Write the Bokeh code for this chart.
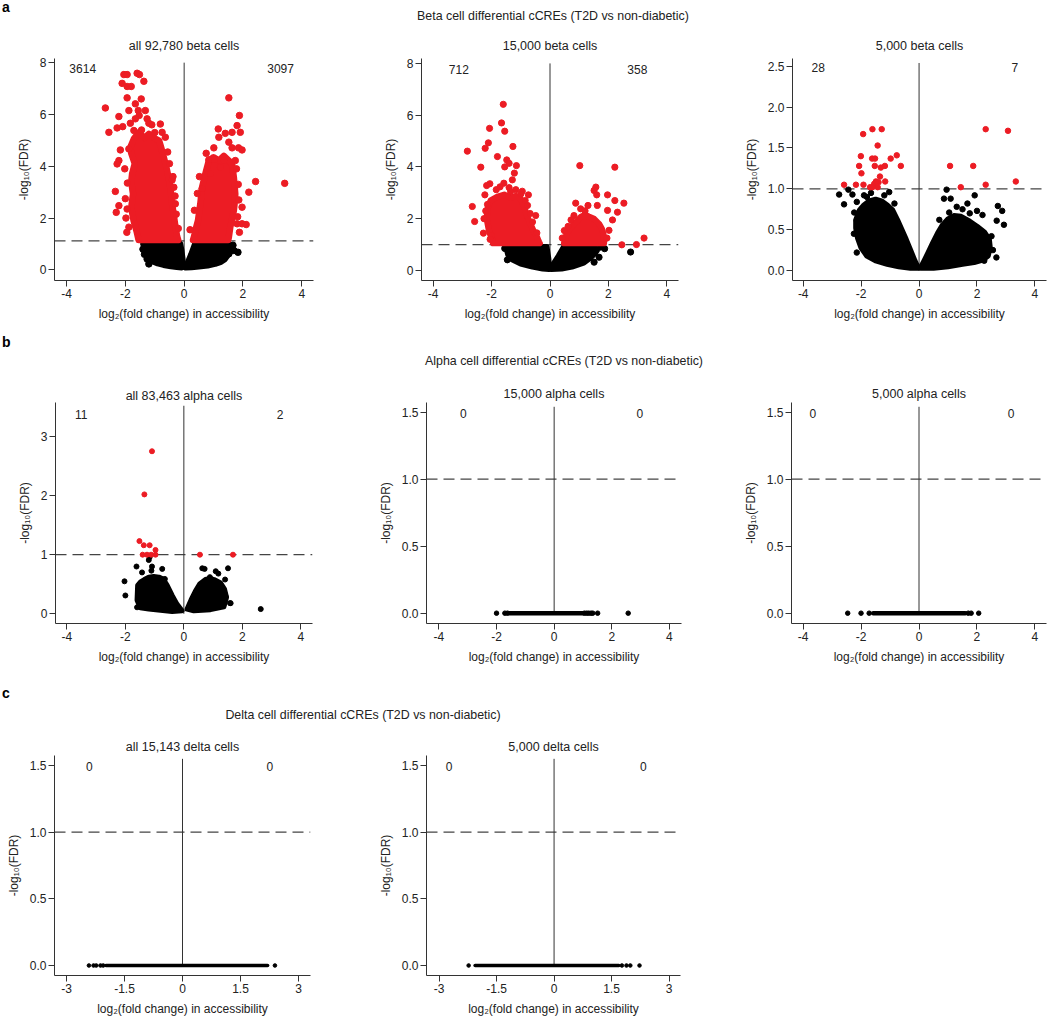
from bokeh.plotting import figure
from bokeh.models import Span, FixedTicker, Div, Range1d
from bokeh.layouts import column, row
from bokeh.core.properties import value
from bokeh.embed import file_html
from bokeh.resources import INLINE

FONT = "Liberation Sans"
RED = "#ec1c24"
BLACK = "#000000"
INK = "#333333"

# ---------------- data ----------------
# counts of differential cCREs (down, up)
beta_counts = [("3614", "3097"), ("712", "358"), ("28", "7")]
alpha_counts = [("11", "2"), ("0", "0"), ("0", "0")]
delta_counts = [("0", "0"), ("0", "0")]

# a: all 92,780 beta cells - scattered significant points
beta_all_red_x = [-2.05, -1.94, -1.60, -1.52, -2.11, -1.94, -1.80, -1.37, -1.94, -1.46, -1.66, -2.68,
                  -1.88, -1.56, -1.32, -2.22, -1.83, -1.53, -1.20, -0.81, -2.56, -2.28, -2.09, -0.75,
                  -0.64, -2.17, -1.88, -2.22, -2.28, -0.41, -2.34, -2.22, -2.31, -1.94, -0.35, -0.30,
                  -1.66, -1.71, -1.26, -1.88, -1.00, -1.45, -1.10,
                  -1.95, -1.98, -2.00, -1.93, -2.02, -0.27, -0.31, -0.38, -0.50, -0.56, -0.20,
                  1.52, 1.88, 1.80, 1.16, 1.40, 1.63, 1.91, 1.18, 1.52, 1.01, 1.63, 1.85, 1.97, 0.84,
                  1.04, 2.43, 3.42, 2.20, 1.97, 1.80, 1.97, 2.11, 1.88, 0.61, 1.35, 1.74, 0.89, 1.23,
                  0.20, 0.35, 0.45, 0.52, 1.82, 1.86, 1.84, 1.78, 0.75]
beta_all_red_y = [7.54, 7.54, 7.59, 7.54, 7.20, 7.08, 7.08, 7.28, 6.64, 6.60, 6.41, 6.25,
                  6.15, 6.15, 6.15, 5.92, 5.66, 5.96, 5.66, 5.63, 5.31, 5.48, 5.53, 5.31,
                  5.12, 4.63, 4.67, 4.22, 4.09, 3.47, 3.03, 2.48, 2.22, 2.35, 3.19, 2.55,
                  5.83, 5.38, 5.83, 1.65, 5.30, 5.40, 5.60,
                  1.45, 2.00, 2.75, 3.35, 3.90, 2.15, 2.85, 3.60, 4.10, 4.55, 1.60,
                  6.64, 5.96, 5.57, 5.44, 5.27, 5.31, 5.31, 5.12, 4.93, 4.71, 4.71, 4.71, 4.63, 4.25,
                  4.25, 3.41, 3.34, 3.00, 2.42, 1.78, 1.78, 1.75, 1.45, 3.13, 4.22, 4.22, 3.71, 3.96,
                  1.55, 2.30, 2.95, 3.60, 2.05, 2.70, 3.30, 3.90, 4.50]
# outlines of the dense significant clouds (down, up)
beta_all_red_core_x = [[-1.55, -1.62, -1.72, -1.80, -1.74, -1.80, -1.77, -1.68, -1.80, -1.83, -1.71, -1.55,
                        -1.35, -1.20, -0.98, -0.85, -0.75, -0.68, -0.58, -0.50, -0.45, -0.41, -0.35,
                        -0.30, -0.24, -0.20],
                       [0.30, 0.33, 0.40, 0.47, 0.55, 0.61, 0.72, 0.84, 1.00, 1.18, 1.35, 1.52, 1.63,
                        1.69, 1.74, 1.72, 1.69, 1.62, 1.57, 1.52, 1.50]]
beta_all_red_core_y = [[1.15, 1.50, 1.90, 2.40, 2.93, 3.40, 3.71, 4.10, 4.50, 4.73, 5.06, 5.30,
                        5.10, 5.25, 5.06, 4.99, 4.60, 4.30, 3.84, 3.40, 3.00, 2.55, 2.10,
                        1.70, 1.30, 1.15],
                       [1.15, 1.26, 1.60, 1.90, 2.55, 3.19, 3.71, 4.22, 4.35, 4.22, 4.40, 4.22, 4.09,
                        3.58, 2.93, 2.60, 2.29, 1.90, 1.65, 1.26, 1.15]]
beta_all_black_core_x = [[-1.32, -1.30, -1.26, -1.20, -1.08, -0.90, -0.70, -0.45, -0.25, -0.08, -0.05,
                          -0.06, -0.10, -0.14],
                         [0.38, 0.25, 0.12, 0.05, 0.25, 0.50, 0.80, 1.05, 1.25, 1.38, 1.46, 1.55, 1.57,
                          1.52]]
beta_all_black_core_y = [[1.00, 0.80, 0.60, 0.45, 0.34, 0.26, 0.20, 0.15, 0.12, 0.10, 0.12,
                          0.40, 0.75, 1.00],
                         [1.00, 0.60, 0.25, 0.10, 0.11, 0.14, 0.18, 0.24, 0.32, 0.42, 0.55, 0.68, 0.85,
                          1.00]]
beta_all_black_x = [-1.37, -1.26, -1.20, 1.52, 1.69, 1.83, 1.60, -1.40, -1.35, 1.66]
beta_all_black_y = [1.00, 0.42, 0.23, 0.62, 0.75, 0.68, 0.80, 0.80, 0.60, 0.95]

# a: 15,000 beta cells
beta_15k_red_x = [-1.60, -1.66, -2.07, -1.55, -2.11, -2.22, -1.27, -2.83, -1.80, -1.48, -2.37, -1.55,
                  -1.40, -1.15, -1.22, -1.29, -1.58, -2.06, -2.17, -1.84, -1.71, -1.40, -1.17, -0.95,
                  -2.23, -0.74, -2.66, -2.14, -0.77, -2.58, -0.49, -2.28, -2.26, -2.00, -0.60,
                  -2.05, -2.20, -0.85, -0.68, -0.45, -1.35, -1.00,
                  1.02, 2.22, 1.57, 1.51, 1.60, 1.97, 0.88, 1.30, 1.62, 2.22, 2.53, 1.05, 1.97, 2.31,
                  2.14, 0.82, 0.62, 0.49, 3.22, 2.46, 2.96, 0.42, 1.95, 2.02, 1.20, 0.72]
beta_15k_red_y = [6.42, 5.70, 5.49, 5.38, 4.93, 4.72, 4.79, 4.61, 4.40, 4.27, 3.99, 4.00,
                  4.14, 4.05, 3.76, 3.50, 3.37, 3.35, 3.28, 3.12, 3.23, 3.20, 3.12, 3.06,
                  2.92, 2.92, 2.47, 2.55, 2.51, 1.89, 2.12, 1.44, 2.00, 1.35, 1.87,
                  1.20, 2.30, 2.70, 2.20, 1.45, 3.05, 2.95,
                  4.05, 3.99, 3.22, 3.09, 2.92, 2.92, 2.60, 2.51, 2.51, 2.70, 2.60, 2.38, 2.32, 2.25,
                  1.95, 2.12, 1.70, 1.54, 1.25, 0.99, 1.00, 1.25, 1.25, 1.55, 2.30, 1.95]
beta_15k_red_core_x = [[-1.95, -1.94, -2.02, -2.09, -2.17, -2.13, -2.03, -1.80, -1.57, -1.35, -1.17,
                        -1.00, -0.92, -0.82, -0.72, -0.57, -0.45, -0.37, -0.35],
                       [0.48, 0.50, 0.57, 0.71, 0.88, 1.05, 1.20, 1.33, 1.51, 1.68, 1.78, 1.83, 1.85,
                        1.85]]
beta_15k_red_core_y = [[1.05, 1.09, 1.30, 1.54, 2.00, 2.44, 2.70, 2.85, 2.93, 2.80, 2.88,
                        2.76, 2.57, 2.25, 1.93, 1.54, 1.30, 1.09, 1.05],
                       [1.05, 1.13, 1.44, 1.67, 1.86, 2.06, 2.15, 2.08, 1.99, 1.80, 1.60, 1.41, 1.13,
                        1.05]]
beta_15k_black_core_x = [[-1.49, -1.46, -1.43, -1.35, -1.28, -1.00, -0.60, -0.25, -0.03, -0.06, -0.12],
                         [0.48, 0.30, 0.10, 0.05, 0.40, 0.75, 1.15, 1.38, 1.52, 1.60, 1.50]]
beta_15k_black_core_y = [[0.90, 0.75, 0.62, 0.52, 0.42, 0.27, 0.15, 0.08, 0.06, 0.45, 0.90],
                         [0.90, 0.55, 0.20, 0.06, 0.08, 0.15, 0.30, 0.50, 0.65, 0.77, 0.90]]
beta_15k_black_x = [-1.46, 2.76, 1.87, 1.68, 1.51, -1.55, 1.72]
beta_15k_black_y = [0.41, 0.71, 0.84, 0.51, 0.32, 0.85, 0.90]

# a: 5,000 beta cells
beta_5k_red_x = [-1.93, -1.61, -1.29, -1.43, -2.01, -1.62, -1.52, -0.77, -0.98, -2.07, -1.53, -1.32,
                 -1.18, -0.63, -1.99, -1.35, -1.17, -2.59, -2.18, -1.92, -1.55, -1.43, -1.69, -1.40,
                 -1.61, -1.49,
                 2.30, 3.07, 1.07, 1.87, 2.30, 3.34, 1.44]
beta_5k_red_y = [1.67, 1.73, 1.73, 1.53, 1.40, 1.37, 1.37, 1.41, 1.37, 1.28, 1.28, 1.26,
                 1.28, 1.28, 1.19, 1.15, 1.09, 1.05, 1.05, 1.05, 1.06, 1.02, 1.02, 1.08,
                 1.02, 1.09,
                 1.73, 1.71, 1.28, 1.28, 1.05, 1.09, 1.02]
beta_5k_black_core_x = [[-2.18, -2.05, -1.90, -1.72, -1.50, -1.30, -1.10, -0.92, -0.75, -0.60, -0.45, -0.30,
                         -0.15, -0.03, -0.30, -0.70, -1.10, -1.50, -1.80, -2.00, -2.12, -2.18],
                        [0.05, 0.18, 0.32, 0.48, 0.65, 0.82, 1.00, 1.20, 1.45, 1.75, 2.00, 2.25, 2.42,
                         2.45, 2.38, 2.20, 1.90, 1.50, 1.00, 0.50]]
beta_5k_black_core_y = [[0.62, 0.74, 0.80, 0.85, 0.87, 0.85, 0.80, 0.74, 0.62, 0.50, 0.38, 0.25,
                         0.12, 0.03, 0.03, 0.05, 0.08, 0.12, 0.18, 0.28, 0.40, 0.52],
                        [0.03, 0.12, 0.22, 0.34, 0.46, 0.56, 0.63, 0.67, 0.66, 0.60, 0.54, 0.47, 0.38,
                         0.28, 0.18, 0.13, 0.10, 0.08, 0.05, 0.03]]
beta_5k_black_x = [-2.76, -2.59, -2.44, -2.30, -2.15, -2.24, -2.15, -1.90, -2.15, -1.66, -1.03, -1.80,
                   0.95, 0.86, 1.09, 1.92, 1.67, 1.04, 2.00, 2.19, 2.72, 2.87, 2.68, 2.93, 2.67, 2.06,
                   2.25, 1.30, 1.50, -2.25, -1.20, -0.85, 0.70, 2.50, 2.55, 1.75]
beta_5k_black_y = [0.93, 0.81, 0.99, 0.93, 0.84, 0.71, 0.61, 0.92, 0.22, 0.95, 0.96, 0.90,
                   0.99, 0.88, 0.88, 0.92, 0.82, 0.71, 0.73, 0.68, 0.79, 0.73, 0.61, 0.56, 0.16, 0.14,
                   0.12, 0.78, 0.75, 0.45, 0.92, 0.82, 0.62, 0.42, 0.25, 0.70]

# b: all 83,463 alpha cells
alpha_all_red_x = [-1.09, -1.35, -1.52, -1.37, -1.17, -0.97, -1.41, -1.26, -0.97, -1.12, 0.55, 1.68]
alpha_all_red_y = [2.75, 2.02, 1.23, 1.16, 1.16, 1.08, 1.00, 1.00, 1.00, 1.00, 1.00, 1.00]
alpha_all_black_core_x = [[-1.58, -1.48, -1.35, -1.20, -1.03, -0.85, -0.71, -0.57, -0.40, -0.23, -0.06,
                           -0.40, -0.80, -1.20, -1.49, -1.60],
                          [0.11, 0.25, 0.40, 0.55, 0.74, 0.90, 1.03, 1.26, 1.39, 1.46, 1.37, 0.91, 0.34]]
alpha_all_black_core_y = [[0.48, 0.54, 0.58, 0.62, 0.63, 0.62, 0.59, 0.48, 0.31, 0.16, 0.05,
                           0.04, 0.06, 0.08, 0.10, 0.23],
                          [0.08, 0.24, 0.39, 0.51, 0.58, 0.60, 0.58, 0.52, 0.42, 0.28, 0.12, 0.07, 0.05]]
alpha_all_black_x = [-2.03, -2.00, -1.62, -1.43, -1.11, -0.74, -0.65, -1.60, -1.17, -1.20, -1.09, -1.54,
                     0.63, 1.51, 1.41, 1.09, 1.43, 1.60, 2.63, 0.71, 0.89, 1.18, 1.58]
alpha_all_black_y = [0.55, 0.31, 0.80, 0.70, 0.73, 0.76, 0.59, 0.11, 0.96, 0.91, 0.80, 0.34,
                     0.77, 0.77, 0.58, 0.72, 0.29, 0.18, 0.08, 0.76, 0.62, 0.68, 0.18]

# b/c: panels without any significant cCRE - every point sits at -log10(FDR) = 0
# (dense run from .. to, isolated points)
alpha_15k_run = (-1.55, 1.00)
alpha_15k_x = [-2.00, -1.71, -1.62, 1.05, 1.13, 1.20, 1.28, 1.34, 1.51, 2.57]
alpha_5k_run = (-1.58, 1.60)
alpha_5k_x = [-2.46, -2.00, -1.72, 1.70, 1.80, 2.06]
delta_all_run = (-1.98, 2.20)
delta_all_x = [-2.42, -2.30, -2.23, -2.12, -2.05, 2.39]
delta_5k_run = (-2.06, 1.69)
delta_5k_x = [-2.23, 1.77, 1.89, 1.99, 2.23]

ticks_x4 = [-4, -2, 0, 2, 4]
ticks_x3 = [-3, -1.5, 0, 1.5, 3]
labels_x3 = ["-3", "-1.5", "0", "1.5", "3"]
ticks_y8 = [0, 2, 4, 6, 8]
ticks_y3 = [0, 1, 2, 3]
ticks_y25 = [0, 0.5, 1.0, 1.5, 2.0, 2.5]
ticks_y15 = [0, 0.5, 1.0, 1.5]

XLAB = "log\u2082(fold change) in accessibility"
YLAB = "-log\u2081\u2080(FDR)"


def tick_labels(ticks, decimals):
    return {t: (f"{t:.{decimals}f}" if decimals else str(t)) for t in ticks}


def panel(title, w, h, borders, xr, yr, xticks, xlabels, yticks, ydec, thr, vtop,
          counts, count_pos, size, title_standoff):
    left, right, top, bottom = borders
    p = figure(width=w, height=h, x_range=Range1d(*xr), y_range=Range1d(*yr),
               output_backend="svg", toolbar_location=None, title=title,
               min_border_left=left, min_border_right=right,
               min_border_top=top, min_border_bottom=bottom, margin=(0, 0, 0, 0))
    p.outline_line_color = None
    p.grid.visible = False
    p.title.align = "center"
    p.title.text_font = FONT
    p.title.text_font_size = "12.5px"
    p.title.text_font_style = "normal"
    p.title.text_color = "#222222"
    p.title.standoff = title_standoff

    p.xaxis.ticker = FixedTicker(ticks=xticks)
    p.xaxis.major_label_overrides = xlabels
    p.yaxis.ticker = FixedTicker(ticks=yticks)
    p.yaxis.major_label_overrides = tick_labels(yticks, ydec)
    p.xaxis.axis_label = XLAB
    p.yaxis.axis_label = YLAB
    for ax in p.axis:
        ax.axis_line_color = INK
        ax.major_tick_line_color = INK
        ax.minor_tick_line_color = None
        ax.major_tick_in = 0
        ax.major_tick_out = 6
        ax.major_label_standoff = 2
        ax.major_label_text_font = FONT
        ax.major_label_text_font_size = "12px"
        ax.major_label_text_color = "#222222"
        ax.axis_label_text_font = FONT
        ax.axis_label_text_font_size = "12px"
        ax.axis_label_text_font_style = "normal"
        ax.axis_label_text_color = "#222222"
        ax.axis_label_standoff = 6

    p.add_layout(Span(location=thr, dimension="width", line_color="#444444",
                      line_dash="11 6", line_width=1.2, level="underlay"))
    p.segment(x0=[0], y0=[0], x1=[0], y1=[vtop], line_color=INK, line_width=1)
    p.text(x=[count_pos[0], count_pos[1]], y=[count_pos[2], count_pos[2]],
           text=[counts[0], counts[1]], text_font=value(FONT), text_font_size="12px",
           text_align="center", text_baseline="middle", text_color="#222222")
    p._dot = size
    return p


def dense(p, xs, ys, color):
    p.patches(xs, ys, fill_color=color, line_color=color, line_width=p._dot,
              line_join="round")


def dots(p, x, y, color):
    p.scatter(x, y, size=p._dot, color=color, marker="circle")


def run(p, extent, x):
    p.segment(x0=[extent[0]], y0=[0], x1=[extent[1]], y1=[0], line_color=BLACK,
              line_width=p._dot, line_cap="round")
    dots(p, x, [0] * len(x), BLACK)


xl4 = tick_labels(ticks_x4, 0)
xl3 = dict(zip(ticks_x3, labels_x3))

# ---------------- row a: beta cells ----------------
a1 = panel("all 92,780 beta cells", 375, 300, (54, 62, 33, 45), (-4.41, 4.40), (-0.41, 8.16),
           ticks_x4, xl4, ticks_y8, 0, 1.12, 8.0, beta_counts[0], (-3.45, 3.28, 7.76), 6.5, 11)
dense(a1, beta_all_black_core_x, beta_all_black_core_y, BLACK)
dots(a1, beta_all_black_x, beta_all_black_y, BLACK)
dense(a1, beta_all_red_core_x, beta_all_red_core_y, RED)
dots(a1, beta_all_red_x, beta_all_red_y, RED)

a2 = panel("15,000 beta cells", 365, 300, (46, 62, 33, 45), (-4.4, 4.4), (-0.39, 8.19),
           ticks_x4, xl4, ticks_y8, 0, 1.0, 8.0, beta_counts[1], (-3.12, 2.99, 7.78), 6.2, 11)
dense(a2, beta_15k_black_core_x, beta_15k_black_core_y, BLACK)
dots(a2, beta_15k_black_x, beta_15k_black_y, BLACK)
dense(a2, beta_15k_red_core_x, beta_15k_red_core_y, RED)
dots(a2, beta_15k_red_x, beta_15k_red_y, RED)

a3 = panel("5,000 beta cells", 310, 300, (52, 4, 33, 45), (-4.37, 4.4), (-0.122, 2.595),
           ticks_x4, xl4, ticks_y25, 1, 1.0, 2.54, beta_counts[2], (-3.48, 3.31, 2.49), 5.5, 11)
dense(a3, beta_5k_black_core_x, beta_5k_black_core_y, BLACK)
dots(a3, beta_5k_black_x, beta_5k_black_y, BLACK)
dots(a3, beta_5k_red_x, beta_5k_red_y, RED)

# ---------------- row b: alpha cells ----------------
b1 = panel("all 83,463 alpha cells", 375, 293, (55, 63, 27, 45), (-4.39, 4.4), (-0.164, 3.575),
           ticks_x4, xl4, ticks_y3, 0, 1.0, 3.52, alpha_counts[0], (-3.51, 3.29, 3.38), 5.0, 0)
dense(b1, alpha_all_black_core_x, alpha_all_black_core_y, BLACK)
dots(b1, alpha_all_black_x, alpha_all_black_y, BLACK)
dots(b1, alpha_all_red_x, alpha_all_red_y, RED)

b2 = panel("15,000 alpha cells", 365, 293, (49, 59, 27, 45), (-4.43, 4.42), (-0.077, 1.572),
           ticks_x4, xl4, ticks_y15, 1, 1.0, 1.54, alpha_counts[1], (-3.15, 2.97, 1.49), 4.5, 4)
run(b2, alpha_15k_run, alpha_15k_x)

b3 = panel("5,000 alpha cells", 310, 293, (51, 4, 27, 45), (-4.4, 4.4), (-0.077, 1.572),
           ticks_x4, xl4, ticks_y15, 1, 1.0, 1.54, alpha_counts[2], (-3.66, 3.18, 1.49), 4.5, 4)
run(b3, alpha_5k_run, alpha_5k_x)

# ---------------- row c: delta cells ----------------
c1 = panel("all 15,143 delta cells", 375, 290, (54, 65, 27, 42), (-3.31, 3.31), (-0.075, 1.575),
           ticks_x3, xl3, ticks_y15, 1, 1.0, 1.55, delta_counts[0], (-2.41, 2.26, 1.49), 3.6, 4)
run(c1, delta_all_run, delta_all_x)

c2 = panel("5,000 delta cells", 365, 290, (49, 60, 27, 42), (-3.33, 3.30), (-0.075, 1.575),
           ticks_x3, xl3, ticks_y15, 1, 1.0, 1.55, delta_counts[1], (-2.74, 2.33, 1.49), 3.6, 4)
run(c2, delta_5k_run, delta_5k_x)


def header(height, letter, letter_top, text, cx, top):
    html = (f'<div style="position:relative;width:1050px;height:{height}px;'
            f'font-family:\'{FONT}\',Arial,sans-serif;color:#222;">'
            f'<span style="position:absolute;left:2px;top:{letter_top}px;font-size:14px;'
            f'font-weight:bold;line-height:14px;color:#000;">{letter}</span>'
            f'<span style="position:absolute;left:{cx}px;top:{top}px;transform:translateX(-50%);'
            f'white-space:nowrap;font-size:12.4px;line-height:13px;">{text}</span></div>')
    return Div(text=html, width=1050, height=height, margin=(0, 0, 0, 0))


head_a = header(25, "a", 0, "Beta cell differential cCREs (T2D vs non-diabetic)", 553, 10)
head_b = header(50, "b", 10, "Alpha cell differential cCREs (T2D vs non-diabetic)", 564, 30)
head_c = header(60, "c", 18, "Delta cell differential cCREs (T2D vs non-diabetic)", 363, 41)

layout = column(head_a, row(a1, a2, a3, spacing=0), head_b, row(b1, b2, b3, spacing=0),
                head_c, row(c1, c2, spacing=0), spacing=0)

open("out.html", "w").write(file_html(layout, INLINE))
